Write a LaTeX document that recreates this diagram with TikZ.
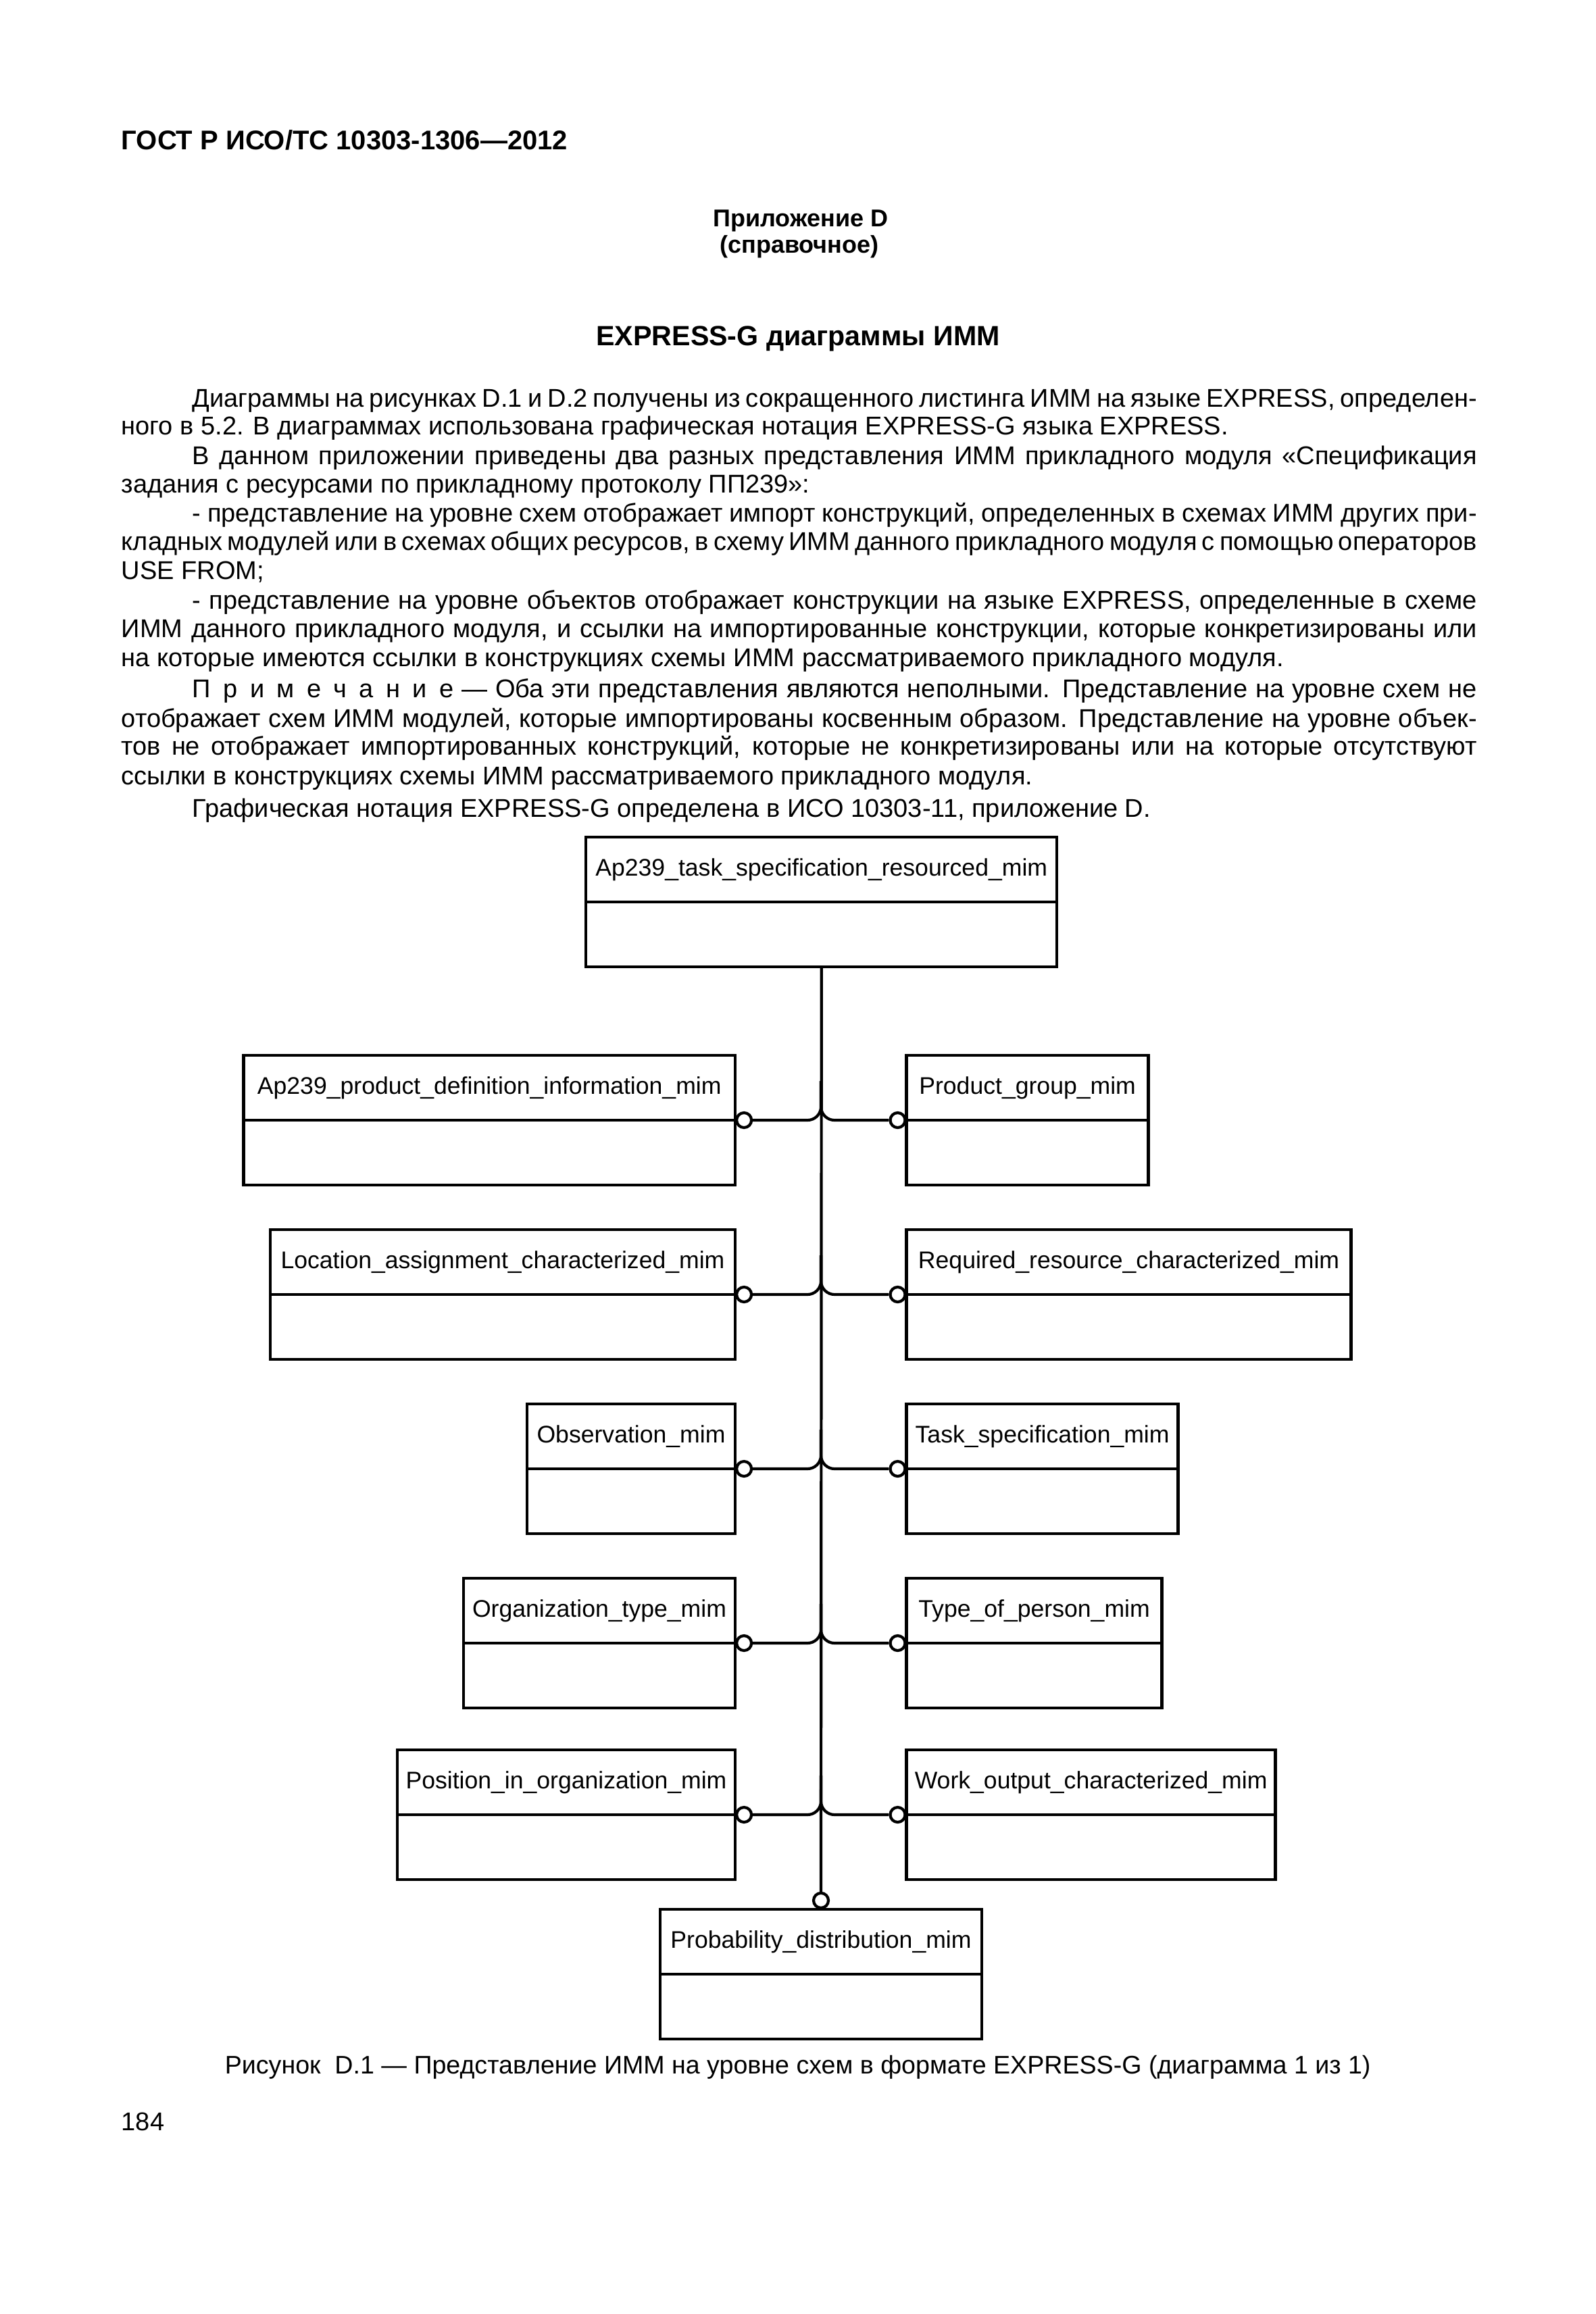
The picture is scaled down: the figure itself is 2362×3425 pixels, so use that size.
\documentclass[tikz,border=0pt]{standalone}
\usepackage{fontspec}
\setmainfont{Liberation Sans}
\newcommand\spkern{\kern4.6pt}
\newcommand\entitybox[5]{%
  \node[enttop, anchor=#2, minimum width=#4*0.25pt] (#1) at #3 {#5};
  \node[entbot, anchor=north, minimum width=#4*0.25pt] (#1b) at (#1.south) {};
}
\begin{document}
\begin{tikzpicture}[x=0.25pt,y=-0.25pt,
  txt/.style={anchor=base west, inner sep=0pt, font=\fontsize{9.5}{11}\selectfont},
  ctxt/.style={anchor=base, inner sep=0pt},
  enttop/.style={draw, line width=1.1pt, minimum height=24pt, inner sep=0pt, outer sep=0pt, font=\fontsize{8.9}{10}\selectfont},
  entbot/.style={draw, line width=1.1pt, minimum height=24pt, inner sep=0pt, outer sep=0pt},
  ring/.style={circle, draw, line width=1.05pt, fill=white, minimum size=5.5pt, inner sep=0pt},
  conn/.style={line width=1.05pt, rounded corners=5pt}]

\fill[white] (0,0) rectangle (2362,3425);
\useasboundingbox (0,0) rectangle (2362,3425);

% header
\node[txt, font=\bfseries\fontsize{10}{12}\selectfont] (hdr) at (179,222) {ГОСТ Р ИСО/ТС 10303-1306—2012};
\node[ctxt, font=\bfseries\fontsize{9}{11}\selectfont] (app) at (1185,336) {Приложение D};
\node[ctxt, font=\bfseries\fontsize{9}{11}\selectfont] (ref) at (1183,374) {(справочное)};
\node[ctxt, font=\bfseries\fontsize{10.3}{12}\selectfont] (ttl) at (1181,511) {EXPRESS-G диаграммы ИММ};

% body text
\node[txt] (l1) at (284,602) {\makebox[475.25pt][s]{Диаграммы на рисунках D.1 и D.2 получены из сокращенного листинга ИММ на языке EXPRESS, определен-}};
\node[txt] (l2) at (179,643.5) {ного в 5.2. В диаграммах использована графическая нотация EXPRESS-G языка EXPRESS.};
\node[txt] (l3) at (284,687) {\makebox[475.25pt][s]{В данном приложении приведены два разных представления ИММ прикладного модуля «Спецификация}};
\node[txt] (l4) at (179,729) {задания с ресурсами по прикладному протоколу ПП239»:};
\node[txt] (l5) at (284,772) {\makebox[475.25pt][s]{- представление на уровне схем отображает импорт конструкций, определенных в схемах ИММ других при-}};
\node[txt] (l6) at (179,814) {\makebox[501.5pt][s]{кладных модулей или в схемах общих ресурсов, в схему ИММ данного прикладного модуля с помощью операторов}};
\node[txt] (l7) at (179,857.6) {USE FROM;};
\node[txt] (l8) at (284,901) {\makebox[475.25pt][s]{- представление на уровне объектов отображает конструкции на языке EXPRESS, определенные в схеме}};
\node[txt] (l9) at (179,943) {\makebox[501.5pt][s]{ИММ данного прикладного модуля, и ссылки на импортированные конструкции, которые конкретизированы или}};
\node[txt] (l10) at (179,986.5) {на которые имеются ссылки в конструкциях схемы ИММ рассматриваемого прикладного модуля.};
\node[txt] (l11) at (284,1032) {\makebox[475.25pt][s]{П\spkern р\spkern и\spkern м\spkern е\spkern ч\spkern а\spkern н\spkern и\spkern е — Оба эти представления являются неполными. Представление на уровне схем не}};
\node[txt] (l12) at (179,1076) {\makebox[501.5pt][s]{отображает схем ИММ модулей, которые импортированы косвенным образом. Представление на уровне объек-}};
\node[txt] (l13) at (179,1117.6) {\makebox[501.5pt][s]{тов не отображает импортированных конструкций, которые не конкретизированы или на которые отсутствуют}};
\node[txt] (l14) at (179,1161) {ссылки в конструкциях схемы ИММ рассматриваемого прикладного модуля.};
\node[txt] (l15) at (284,1209) {Графическая нотация EXPRESS-G определена в ИСО 10303-11, приложение D.};

% entities
\entitybox{T}{north}{(1215.75,1239)}{697}{Ap239\_task\_specification\_resourced\_mim}
\entitybox{L1}{north east}{(1088,1562)}{727.5}{Ap239\_product\_definition\_information\_mim}
\entitybox{L2}{north east}{(1088,1820)}{688}{Location\_assignment\_characterized\_mim}
\entitybox{L3}{north east}{(1088,2078)}{308}{Observation\_mim}
\entitybox{L4}{north east}{(1088,2336)}{402}{Organization\_type\_mim}
\entitybox{L5}{north east}{(1088,2590)}{500}{Position\_in\_organization\_mim}
\entitybox{R1}{north west}{(1341.6,1562)}{358}{Product\_group\_mim}
\entitybox{R2}{north west}{(1341.6,1820)}{658}{Required\_resource\_characterized\_mim}
\entitybox{R3}{north west}{(1341.6,2078)}{402}{Task\_specification\_mim}
\entitybox{R4}{north west}{(1341.6,2336)}{378}{Type\_of\_person\_mim}
\entitybox{R5}{north west}{(1341.6,2590)}{546}{Work\_output\_characterized\_mim}
\entitybox{B}{north}{(1215,2826)}{476}{Probability\_distribution\_mim}

% rings
\foreach \k in {1,...,5}{
  \node[ring, anchor=west] (cL\k) at (L\k.south east) {};
  \node[ring, anchor=east] (cR\k) at (R\k.south west) {};
}
\node[ring, anchor=south] (cB) at (B.north) {};

% trunk
\draw[line width=1.05pt] (Tb.south) -- (cB.north);

% junctions
\foreach \k/\yy in {1/1600,2/1858,3/2116,4/2374,5/2628}{
  \coordinate (j\k) at (1215,\yy);
  \draw[conn] (cL\k.east) -| (j\k);
  \draw[conn] (cR\k.west) -| (j\k);
}

% caption and page number
\node[txt, font=\fontsize{9.4}{11}\selectfont] (cap) at (332,3069) {Рисунок\ \ D.1 — Представление ИММ на уровне схем в формате EXPRESS-G (диаграмма 1 из 1)};
\node[txt] (pg) at (179,3153) {184};
\end{tikzpicture}
\end{document}
